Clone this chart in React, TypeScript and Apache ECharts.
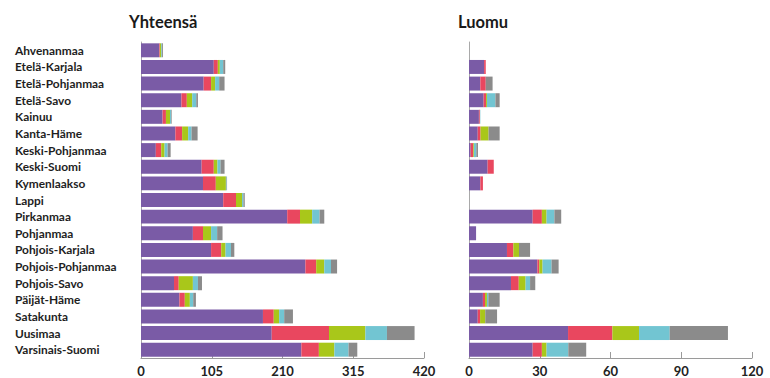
import React, { useEffect, useRef } from "react";
import * as echarts from "echarts";

const regions = [
  "Ahvenanmaa", "Etelä-Karjala", "Etelä-Pohjanmaa", "Etelä-Savo", "Kainuu",
  "Kanta-Häme", "Keski-Pohjanmaa", "Keski-Suomi", "Kymenlaakso", "Lappi",
  "Pirkanmaa", "Pohjanmaa", "Pohjois-Karjala", "Pohjois-Pohjanmaa", "Pohjois-Savo",
  "Päijät-Häme", "Satakunta", "Uusimaa", "Varsinais-Suomi",
];

// Yhteensä (total)
const totalPurple = [27, 108, 93, 60, 32, 51, 22, 90, 92, 122, 217, 77, 104, 244, 49, 57, 181, 194, 238];
const totalRed = [1, 6, 11, 8, 5, 10, 8, 18, 19, 19, 19, 15, 15, 16, 7, 8, 16, 85, 26];
const totalGreen = [2, 3, 6, 8, 6, 9, 5, 5.5, 15, 9, 18, 12, 6.5, 12, 21, 7.5, 8, 54, 23];
const totalCyan = [1, 5, 6, 6, 1.5, 5, 4.5, 4.5, 1, 2, 11, 9, 8, 10, 7.5, 5, 7.5, 32, 21];
const totalGray = [1.5, 3, 8, 2.5, 1, 9, 4.5, 6, 0.7, 2, 7, 8, 5, 9, 6, 4, 13, 41, 13];

// Luomu (organic)
const organicPurple = [0, 6.4, 4.8, 6.2, 4.2, 3.7, 0.7, 7.9, 4.8, 0, 27, 3, 16.1, 29, 17.8, 5.9, 3.7, 42, 27];
const organicRed = [0, 0.7, 2.3, 1, 0.4, 1.2, 1.1, 2.6, 1.1, 0, 3.9, 0, 2.7, 0.8, 3.3, 0.9, 1, 18.8, 3.9];
const organicGreen = [0, 0, 0, 0.4, 0, 3.4, 0.3, 0, 0, 0, 2, 0, 2.4, 1.4, 2.9, 0.8, 2.2, 11.3, 2];
const organicCyan = [0, 0, 0, 3.6, 0.2, 0, 1, 0, 0, 0, 3.3, 0, 0, 3.8, 1.9, 0.6, 0, 13, 9.2];
const organicGray = [0, 0, 2.9, 1.8, 0, 4.7, 0.7, 0, 0, 0, 2.9, 0, 4.7, 3, 2.2, 4.8, 5, 24.7, 7.6];

const totalTicks = { min: 0, max: 420, interval: 105 };
const organicTicks = { min: 0, max: 120, interval: 30 };

const colors = ["#7A5BA6", "#E9475F", "#A9C71A", "#72C5D2", "#8B8B8B"];
const segmentNames = ["s1", "s2", "s3", "s4", "s5"];

const FONT = "Lato";

export default function App() {
  const ref = useRef<HTMLDivElement>(null);

  useEffect(() => {
    if (!ref.current) return;
    const chart = echarts.init(ref.current, undefined, { renderer: "svg" });

    const totals = [totalPurple, totalRed, totalGreen, totalCyan, totalGray];
    const organics = [organicPurple, organicRed, organicGreen, organicCyan, organicGray];

    const makeSeries = (sets: number[][], idx: number) =>
      sets.map((d, i) => ({
        name: segmentNames[i],
        type: "bar",
        stack: "s" + idx,
        xAxisIndex: idx,
        yAxisIndex: idx,
        data: d,
        barCategoryGap: "16%",
        itemStyle: { color: colors[i] },
        emphasis: { disabled: true },
      }));

    const xAxisBase = (t: { min: number; max: number; interval: number }, gi: number) => ({
      type: "value",
      gridIndex: gi,
      min: t.min,
      max: t.max,
      interval: t.interval,
      splitLine: { show: false },
      axisLine: { show: true, lineStyle: { color: "#9a9a9a", width: 1 } },
      axisTick: { show: true, inside: true, length: 6, lineStyle: { color: "#9a9a9a" } },
      axisLabel: {
        color: "#222",
        fontFamily: FONT,
        fontWeight: "bold",
        fontSize: 13,
        margin: 6,
      },
    });

    const yAxisBase = (gi: number, showLabels: boolean) => ({
      type: "category",
      gridIndex: gi,
      data: regions,
      inverse: true,
      axisLine: { show: true, lineStyle: { color: "#a9a9a9", width: 1 } },
      axisTick: { show: false },
      axisLabel: showLabels
        ? {
            show: true,
            align: "left",
            margin: 126,
            color: "#1e1e1e",
            fontFamily: FONT,
            fontWeight: "bold",
            fontSize: 11.9,
          }
        : { show: false },
    });

    chart.setOption({
      animation: false,
      backgroundColor: "#ffffff",
      title: [
        {
          text: "Yhteensä",
          left: 124,
          top: 8,
          textStyle: { fontFamily: FONT, fontWeight: "bold", fontSize: 16.5, color: "#1a1a1a" },
        },
        {
          text: "Luomu",
          left: 453,
          top: 8,
          textStyle: { fontFamily: FONT, fontWeight: "bold", fontSize: 16.5, color: "#1a1a1a" },
        },
      ],
      grid: [
        { left: 141, top: 42, width: 283, height: 316 },
        { left: 469, top: 42, width: 283, height: 316 },
      ],
      xAxis: [xAxisBase(totalTicks, 0), xAxisBase(organicTicks, 1)],
      yAxis: [yAxisBase(0, true), yAxisBase(1, false)],
      series: [...makeSeries(totals, 0), ...makeSeries(organics, 1)],
    });

    return () => chart.dispose();
  }, []);

  return (
    <div
      ref={ref}
      style={{ position: "fixed", left: 0, top: 0, width: 770, height: 378 }}
    />
  );
}
